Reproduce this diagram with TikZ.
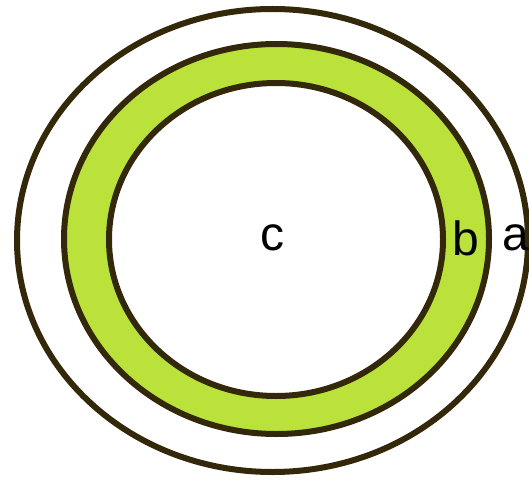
\documentclass[tikz,border=0pt]{standalone}
\usepackage{fontspec}
\setmainfont{Liberation Sans}
\definecolor{ringline}{HTML}{33290A}
\definecolor{ringgreen}{HTML}{BAE23A}

\begin{document}
\begin{tikzpicture}[x=1pt, y=-1pt]
    % Fix the page size to the reference
    \useasboundingbox (0,0) rectangle (529,481);
    \clip (0,0) rectangle (529,481);

    % Draw the three rings
    \draw[ringline, line width=6pt] (272.5,240.5) ellipse [x radius=255.5, y radius=231.5];
    \draw[ringline, line width=6pt, fill=ringgreen] (276.5,239) ellipse [x radius=212.5, y radius=195];
    \draw[ringline, line width=6pt, fill=white] (276,239.5) ellipse [x radius=167, y radius=156.5];

    % Define labels
    \node[font=\fontsize{48}{56}\selectfont] at (272,238) (c) {c};
    \node[font=\fontsize{48}{56}\selectfont] at (466,238) (b) {b};
    \node[font=\fontsize{48}{56}\selectfont] at (516,238) (a) {a};
\end{tikzpicture}
\end{document}
